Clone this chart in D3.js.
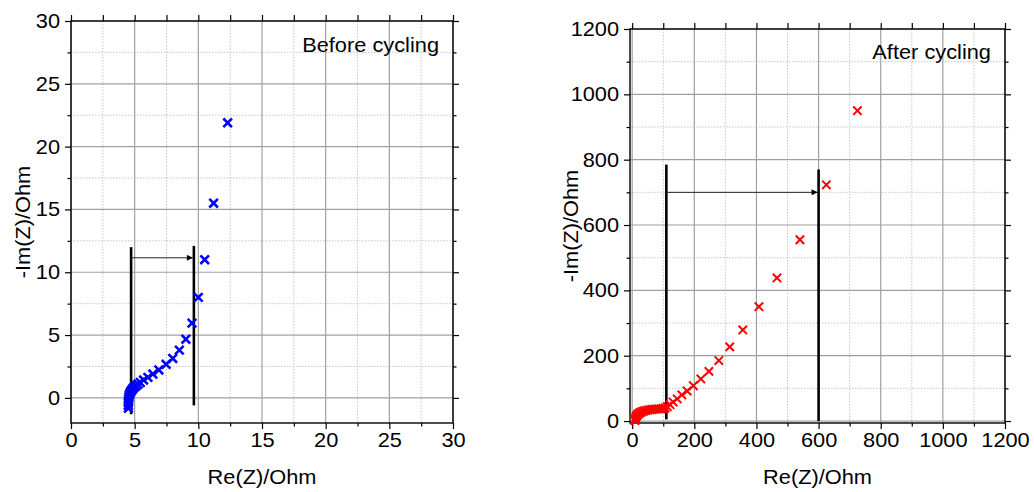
<!DOCTYPE html>
<html>
<head>
<meta charset="utf-8">
<script src="https://cdn.jsdelivr.net/npm/d3@7/dist/d3.min.js"></script>
<style>
  body { margin: 0; background: #fff; }
  svg { display: block; }
  text { font-family: "Liberation Sans", Arial, sans-serif; fill: #000; }
</style>
</head>
<body>
<svg id="chart" width="1034" height="492"></svg>
<script>
// Nyquist data before cycling (Ohm)
const beforeRe = [12.3, 11.2, 10.5, 10.0, 9.5, 9.02, 8.51, 7.99, 7.47, 6.9, 6.43, 6.04, 5.7, 5.44, 5.25, 5.1, 4.97, 4.86, 4.77, 4.69, 4.63, 4.58, 4.55, 4.53, 4.51, 4.5, 4.5, 4.51];
const beforeIm = [21.9, 15.5, 11.0, 8.0, 5.95, 4.67, 3.8, 3.14, 2.67, 2.22, 1.9, 1.63, 1.42, 1.22, 1.08, 0.96, 0.85, 0.74, 0.62, 0.5, 0.37, 0.23, 0.09, -0.06, -0.22, -0.4, -0.6, -0.82];

// Nyquist data after cycling (Ohm)
const afterRe = [725, 625, 540, 466, 408, 356, 314, 279, 247, 221, 197, 177, 160, 145, 132, 122, 113, 106, 99, 92, 85, 78, 71, 64, 57, 50, 43, 37, 31, 26, 21, 17, 14, 12, 10, 9];
const afterIm = [950, 723, 555, 438, 350, 279, 227, 185, 152, 129, 108, 92, 80, 68, 58, 50, 44, 40, 38.5, 37.5, 37, 36.5, 36, 35.3, 34.5, 33.5, 32, 30.5, 28.5, 26, 23, 19.5, 15.5, 11, 6, 1];

// Axis ticks
const beforeXTicks = [0, 5, 10, 15, 20, 25, 30];
const beforeYTicks = [0, 5, 10, 15, 20, 25, 30];
const afterXTicks = [0, 200, 400, 600, 800, 1000, 1200];
const afterYTicks = [0, 200, 400, 600, 800, 1000, 1200];

// Resistance markers: vertical bars (Re, from -Im to -Im) and the arrow between them
const beforeBarRe = [4.72, 9.65];
const beforeBarLow = [-1.3, -0.6];
const beforeBarHigh = [12.0, 12.1];
const beforeArrowIm = 11.15;

const afterBarRe = [110, 600];
const afterBarLow = [5, 0];
const afterBarHigh = [785, 770];
const afterArrowIm = 700;

const TEXT_SX = 1.09;   // slightly wide lettering
const svg = d3.select("#chart");

svg.append("defs").append("marker")
  .attr("id", "arrowHead")
  .attr("viewBox", "0 0 10 10")
  .attr("refX", 10).attr("refY", 5)
  .attr("markerWidth", 9).attr("markerHeight", 6)
  .attr("markerUnits", "userSpaceOnUse")
  .attr("orient", "auto")
  .append("path").attr("d", "M0,0L10,5L0,10Z").attr("fill", "#000");

function panel(cfg) {
  const x = d3.scaleLinear().domain(cfg.xDomain).range([cfg.left, cfg.right]);
  const y = d3.scaleLinear().domain(cfg.yDomain).range([cfg.bottom, cfg.top]);
  const g = svg.append("g");

  const xMinor = d3.range(cfg.xTicks[0], cfg.xTicks[cfg.xTicks.length - 1] + 1e-9, cfg.xStep / 2);
  const yMinor = d3.range(cfg.yTicks[0], cfg.yTicks[cfg.yTicks.length - 1] + 1e-9, cfg.yStep / 2);
  const xMinorOnly = xMinor.filter((_, i) => i % 2 === 1);
  const yMinorOnly = yMinor.filter((_, i) => i % 2 === 1);

  // minor grid (dotted)
  g.append("g").selectAll("line").data(xMinorOnly).join("line")
    .attr("x1", d => x(d)).attr("x2", d => x(d))
    .attr("y1", cfg.top).attr("y2", cfg.bottom)
    .attr("stroke", "#c8c8c8").attr("stroke-width", 1).attr("stroke-dasharray", "1.5,1.5");
  g.append("g").selectAll("line").data(yMinorOnly).join("line")
    .attr("y1", d => y(d)).attr("y2", d => y(d))
    .attr("x1", cfg.left).attr("x2", cfg.right)
    .attr("stroke", "#c8c8c8").attr("stroke-width", 1).attr("stroke-dasharray", "1.5,1.5");

  // major grid
  g.append("g").selectAll("line").data(cfg.xTicks).join("line")
    .attr("x1", d => x(d)).attr("x2", d => x(d))
    .attr("y1", cfg.top).attr("y2", cfg.bottom)
    .attr("stroke", "#a0a0a0").attr("stroke-width", 1.2);
  g.append("g").selectAll("line").data(cfg.yTicks).join("line")
    .attr("y1", d => y(d)).attr("y2", d => y(d))
    .attr("x1", cfg.left).attr("x2", cfg.right)
    .attr("stroke", "#a0a0a0").attr("stroke-width", 1.2);

  // axes on all four sides, ticks outward
  const styleAxis = sel => {
    sel.select(".domain").remove();
    sel.selectAll("line").attr("stroke", "#000").attr("stroke-width", 1.2);
    sel.selectAll("text").style("font-size", "20px").attr("fill", "#000")
      .attr("transform", `scale(${TEXT_SX},1)`);
  };
  g.append("g").attr("transform", `translate(0,${cfg.bottom})`)
    .call(d3.axisBottom(x).tickValues(cfg.xTicks).tickSize(6).tickPadding(4).tickFormat(d3.format("d")))
    .call(styleAxis);
  g.append("g").attr("transform", `translate(0,${cfg.bottom})`)
    .call(d3.axisBottom(x).tickValues(xMinorOnly).tickSize(3.5).tickFormat(""))
    .call(styleAxis);
  g.append("g").attr("transform", `translate(${cfg.left},0)`)
    .call(d3.axisLeft(y).tickValues(cfg.yTicks).tickSize(6).tickPadding(4).tickFormat(d3.format("d")))
    .call(styleAxis);
  g.append("g").attr("transform", `translate(${cfg.left},0)`)
    .call(d3.axisLeft(y).tickValues(yMinorOnly).tickSize(3.5).tickFormat(""))
    .call(styleAxis);
  g.append("g").attr("transform", `translate(0,${cfg.top})`)
    .call(d3.axisTop(x).tickValues(xMinor).tickSize(6).tickFormat(""))
    .call(styleAxis);
  g.append("g").attr("transform", `translate(${cfg.right},0)`)
    .call(d3.axisRight(y).tickValues(cfg.yTicks).tickSize(6).tickFormat(""))
    .call(styleAxis);
  g.append("g").attr("transform", `translate(${cfg.right},0)`)
    .call(d3.axisRight(y).tickValues(yMinorOnly).tickSize(3.5).tickFormat(""))
    .call(styleAxis);

  // frame
  g.append("rect")
    .attr("x", cfg.left).attr("y", cfg.top)
    .attr("width", cfg.right - cfg.left).attr("height", cfg.bottom - cfg.top)
    .attr("fill", "none").attr("stroke", "#000").attr("stroke-width", 1.4);

  // resistance bars
  g.append("g").selectAll("line").data(cfg.barRe).join("line")
    .attr("x1", d => x(d)).attr("x2", d => x(d))
    .attr("y1", (d, i) => y(cfg.barLow[i])).attr("y2", (d, i) => y(cfg.barHigh[i]))
    .attr("stroke", "#000").attr("stroke-width", 2.6);

  // arrow between the bars
  g.append("line")
    .attr("x1", x(cfg.barRe[0])).attr("x2", x(cfg.barRe[1]) - 1)
    .attr("y1", y(cfg.arrowIm)).attr("y2", y(cfg.arrowIm))
    .attr("stroke", "#222").attr("stroke-width", 1)
    .attr("marker-end", "url(#arrowHead)");

  // data points as crosses
  const s = cfg.markerHalf;
  g.append("g").selectAll("path").data(cfg.re).join("path")
    .attr("transform", (d, i) => `translate(${x(d)},${y(cfg.im[i])})`)
    .attr("d", `M${-s},${-s}L${s},${s}M${s},${-s}L${-s},${s}`)
    .attr("stroke", cfg.color).attr("stroke-width", cfg.markerWidth).attr("fill", "none");

  // labels
  g.append("text")
    .attr("transform", `translate(${(cfg.left + cfg.right) / 2},484) scale(${TEXT_SX},1)`)
    .attr("text-anchor", "middle").style("font-size", "20px")
    .text("Re(Z)/Ohm");
  g.append("text")
    .attr("transform", `translate(${cfg.yTitleX},${(cfg.top + cfg.bottom) / 2}) rotate(-90) scale(${TEXT_SX},1)`)
    .attr("text-anchor", "middle").style("font-size", "20px")
    .text("-Im(Z)/Ohm");
  g.append("text")
    .attr("transform", `translate(${cfg.right - 14},${cfg.top + cfg.noteDy}) scale(${TEXT_SX},1)`)
    .attr("text-anchor", "end").style("font-size", "20px")
    .text(cfg.note);
}

panel({
  xDomain: [0, 30], yDomain: [-2, 30],
  left: 71, right: 453, top: 21, bottom: 423,
  xTicks: beforeXTicks, yTicks: beforeYTicks, xStep: 5, yStep: 5,
  re: beforeRe, im: beforeIm, color: "#0000ff", markerHalf: 4.3, markerWidth: 2.6,
  barRe: beforeBarRe, barLow: beforeBarLow, barHigh: beforeBarHigh, arrowIm: beforeArrowIm,
  yTitleX: 30, note: "Before cycling", noteDy: 31
});

panel({
  xDomain: [-7, 1200], yDomain: [-6, 1200],
  left: 630, right: 1005, top: 29, bottom: 423,
  xTicks: afterXTicks, yTicks: afterYTicks, xStep: 200, yStep: 200,
  re: afterRe, im: afterIm, color: "#ff0000", markerHalf: 4.2, markerWidth: 2,
  barRe: afterBarRe, barLow: afterBarLow, barHigh: afterBarHigh, arrowIm: afterArrowIm,
  yTitleX: 578, note: "After cycling", noteDy: 30
});
</script>
</body>
</html>
